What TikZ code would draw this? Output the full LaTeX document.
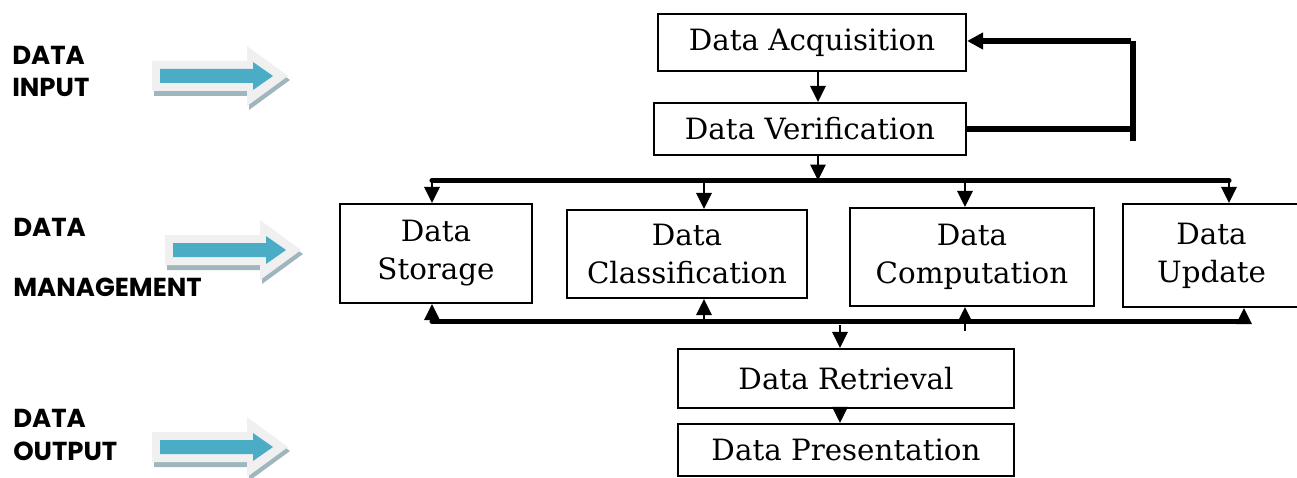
\documentclass[tikz,border=0pt]{standalone}
\usepackage{fontspec}
\setmainfont{DejaVu Serif}
\newfontfamily\lblfont{Poppins}
\usetikzlibrary{arrows.meta}
\definecolor{teal1}{HTML}{4BACC6}
\definecolor{arrgray}{HTML}{F0F0F0}
\definecolor{shadowc}{HTML}{9FB6BE}
\begin{document}
\begin{tikzpicture}[x=0.75pt,y=-0.75pt,
  box/.style={draw, line width=1.6pt, inner sep=0pt, align=center,
    font=\fontsize{22}{28.5}\selectfont},
  thinarr/.style={line width=1.7pt, -{Triangle[length=12pt,width=11.5pt]}},
  busline/.style={line width=3.8pt},
  busarr/.style={line width=3.8pt, -{Triangle[length=12pt,width=12pt]}},
  lbl/.style={anchor=base west, inner sep=0pt,
    font=\lblfont\bfseries\fontsize{19.5}{22}\selectfont},
  pics/blockarr/.style={code={
    \fill[shadowc] (2,-10)--(97,-10)--(97,-25)--(138,4)--(97,34)--(97,20)--(2,20)--cycle;
    \fill[arrgray] (0,-15)--(95,-15)--(95,-30)--(136,0)--(95,30)--(95,15)--(0,15)--cycle;
    \fill[teal1] (8,-7)--(101,-7)--(101,-14)--(121,0)--(101,14)--(101,7)--(8,7)--cycle;
  }}]
\useasboundingbox (0,0) rectangle (1297,478);

% left labels
\node[lbl] (l1) at (12,65) {DATA};
\node[lbl] (l2) at (12,97) {INPUT};
\node[lbl] (l3) at (13,236) {DATA};
\node[lbl] (l4) at (13,296) {MANAGEMENT};
\node[lbl] (l5) at (13,427) {DATA};
\node[lbl] (l6) at (13,460) {OUTPUT};

% block arrows
\pic at (152,76) {blockarr};
\pic at (165,250) {blockarr};
\pic at (152,447) {blockarr};

% boxes
\node[box, minimum width=231pt, minimum height=42.75pt] (acq) at (812,42.5) {Data Acquisition};
\node[box, minimum width=234pt, minimum height=39pt] (ver) at (810,129) {Data Verification};
\node[box, minimum width=144pt, minimum height=74.25pt] (sto) at (436,253.5) {Data\\Storage};
\node[box, minimum width=180pt, minimum height=66pt] (cla) at (687,254) {Data\\Classification};
\node[box, minimum width=183pt, minimum height=73.5pt] (com) at (972,257) {Data\\Computation};
\node[box, minimum width=132.75pt, minimum height=77.25pt] (upd) at (1211.5,255.5) {Data\\Update};
\node[box, minimum width=252pt, minimum height=44.25pt] (ret) at (846,378.5) {Data Retrieval};
\node[box, minimum width=252pt, minimum height=39pt] (pre) at (846,450) {Data Presentation};

% bus coordinates
\coordinate (tl) at (432,180.5);
\coordinate (tr) at (1229,180.5);
\coordinate (tv) at (818,180.5);
\coordinate (bl) at (432,321.5);
\coordinate (br) at (1244,321.5);
\coordinate (fbt) at (1133,41);
\coordinate (fbb) at (1133,141);
\coordinate (fbm) at (1133,129);
\coordinate (cx) at (704,321.5);
\coordinate (mx) at (965,331);
\coordinate (rx) at (840,325);

% top flow
\draw[thinarr] ([xshift=4.5pt]acq.south) -- ([xshift=4.5pt]acq.south |- ver.north);
\draw[thinarr] ([xshift=6pt]ver.south) -- (tv);

% feedback loop
\draw[busline] (ver.east) -- (fbm);
\draw[busline] (fbb) -- (fbt);
\draw[busarr] ([xshift=-1.5pt]fbt) -- (acq.east |- fbt);

% top bus
\draw[busline, line cap=round] (tl) -- (tr);
\draw[thinarr] (tl) -- (tl |- sto.north);
\draw[thinarr] (cx |- tl) -- (cx |- cla.north);
\draw[thinarr] (mx |- tl) -- (mx |- com.north);
\draw[thinarr] (tr) -- (tr |- upd.north);

% bottom bus
\draw[busline, line cap=round] (bl) -- (br);
\draw[thinarr] (bl) -- (bl |- sto.south);
\draw[thinarr] (cx) -- (cx |- cla.south);
\draw[thinarr] (mx) -- (mx |- com.south);
\draw[thinarr] (br) -- (br |- upd.south);
\draw[thinarr] (rx) -- (rx |- ret.north);
\draw[thinarr] (rx |- ret.south) -- (rx |- pre.north);
\end{tikzpicture}
\end{document}
